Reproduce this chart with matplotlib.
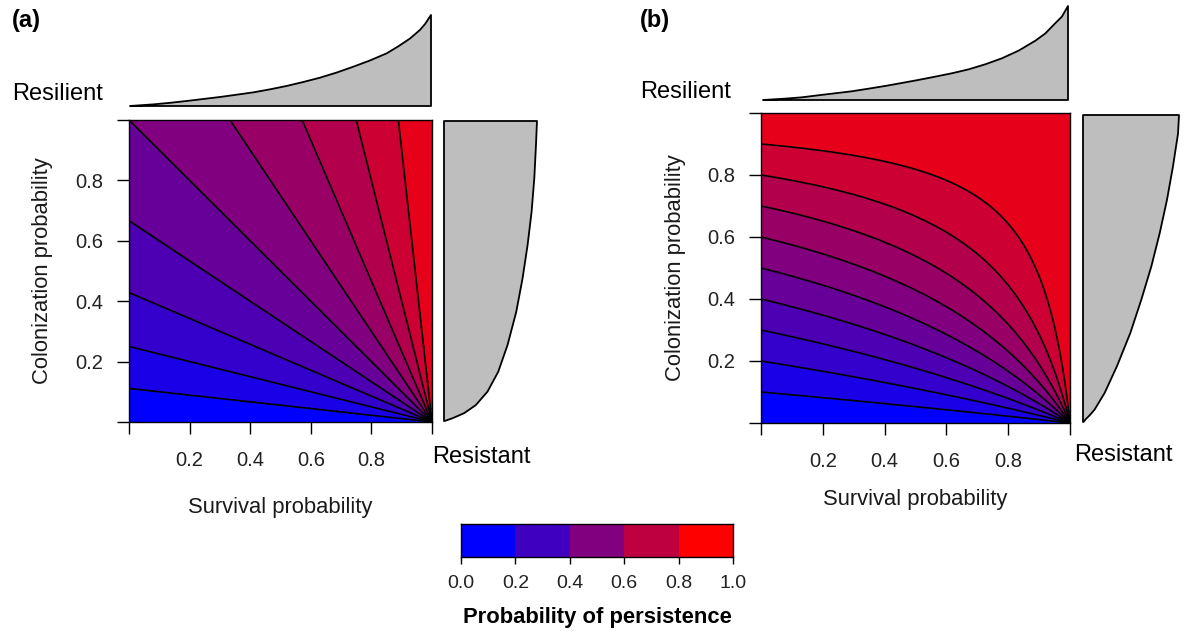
import numpy as np
import matplotlib.pyplot as plt
from matplotlib.colors import ListedColormap, BoundaryNorm

plt.rcParams['font.family'] = ['Liberation Sans', 'DejaVu Sans']

W, H = 1184, 633

# contour levels of the probability of persistence
levels = [0.0, 0.1, 0.2, 0.3, 0.4, 0.5, 0.6, 0.7, 0.8, 0.9, 1.0]
legend_breaks = [0.0, 0.2, 0.4, 0.6, 0.8, 1.0]
axis_ticks = [0.0, 0.2, 0.4, 0.6, 0.8, 1.0]
axis_labels = ['', '0.2', '0.4', '0.6', '0.8', '']

# marginal densities (scaled 0..1)
top_a_s = [0, 0.078, 0.133, 0.188, 0.244, 0.299, 0.354, 0.41, 0.465, 0.52, 0.576,
           0.631, 0.687, 0.742, 0.797, 0.853, 0.891, 0.93, 0.963, 0.98, 1.0]
top_a_h = [0, 0.018, 0.035, 0.055, 0.077, 0.099, 0.124, 0.150, 0.183, 0.220, 0.264,
           0.311, 0.368, 0.432, 0.50, 0.579, 0.655, 0.741, 0.835, 0.90, 1.0]
right_a_c = [0, 0.009, 0.026, 0.053, 0.098, 0.164, 0.253, 0.364, 0.476, 0.587,
             0.698, 0.809, 0.92, 1.0]
right_a_w = [0.007, 0.09, 0.216, 0.342, 0.468, 0.583, 0.683, 0.777, 0.845, 0.899,
             0.942, 0.971, 0.989, 1.0]

top_b_s = [0, 0.071, 0.126, 0.181, 0.235, 0.29, 0.345, 0.40, 0.455, 0.509, 0.564,
           0.619, 0.674, 0.728, 0.783, 0.838, 0.893, 0.926, 0.958, 0.98, 1.0]
top_b_h = [0, 0.014, 0.028, 0.050, 0.071, 0.092, 0.12, 0.149, 0.181, 0.213, 0.248,
           0.284, 0.326, 0.379, 0.443, 0.525, 0.631, 0.709, 0.816, 0.887, 1.0]
right_b_c = [0, 0.009, 0.022, 0.041, 0.095, 0.182, 0.290, 0.399, 0.507, 0.615,
             0.724, 0.832, 0.94, 1.0]
right_b_w = [0.005, 0.028, 0.07, 0.122, 0.226, 0.354, 0.493, 0.608, 0.712, 0.799,
             0.875, 0.937, 0.99, 1.0]


def blend(t):
    return (t, 0.0, 1.0 - t)


band_colors = [blend(v) for v in levels[:-1]]
legend_colors = [blend(t) for t in [0, 0.25, 0.5, 0.75, 1.0]]

# model surfaces
s = np.linspace(0, 1, 401)
c = np.linspace(0, 1, 401)
S, C = np.meshgrid(s, c)
with np.errstate(divide='ignore', invalid='ignore'):
    P_a = C / (C + (1 - S))
    P_b = C / (C + (1 - S) * (1 - C))
P_a = np.nan_to_num(P_a, nan=0.5)
P_b = np.nan_to_num(P_b, nan=0.5)

fig = plt.figure(figsize=(W / 100, H / 100), dpi=100)


def px_axes(l, t, r, b):
    return fig.add_axes([l / W, 1 - b / H, (r - l) / W, (b - t) / H])


def ftext(x, y, s, **kw):
    fig.text(x / W, 1 - y / H, s, **kw)


def heat(box, P):
    ax = px_axes(*box)
    ax.contourf(S, C, P, levels=levels, colors=band_colors)
    ax.contour(S, C, P, levels=levels[1:-1], colors='black', linewidths=1.2)
    ax.set_xlim(0, 1)
    ax.set_ylim(0, 1)
    ax.set_xticks(axis_ticks)
    ax.set_xticklabels(axis_labels)
    ax.set_yticks(axis_ticks)
    ax.set_yticklabels(axis_labels)
    ax.tick_params(axis='x', length=8.6, width=1, pad=12, labelsize=14.5, labelcolor='#222222')
    ax.tick_params(axis='y', length=8.6, width=1, pad=10, labelsize=14.5, labelcolor='#222222')
    for sp in ax.spines.values():
        sp.set_linewidth(1)
    return ax


def top_margin(box, xs, hs):
    ax = px_axes(*box)
    ax.fill(list(xs) + [1, 0], list(hs) + [0, 0], facecolor='#BEBEBE',
            edgecolor='black', linewidth=1.3, joinstyle='round', clip_on=False)
    ax.set_xlim(0, 1)
    ax.set_ylim(0, 1)
    ax.axis('off')


def right_margin(box, cs, ws):
    ax = px_axes(*box)
    ax.fill([0] + list(ws) + [0], [0] + list(cs) + [1], facecolor='#BEBEBE',
            edgecolor='black', linewidth=1.3, joinstyle='round', clip_on=False)
    ax.set_xlim(0, 1)
    ax.set_ylim(0, 1)
    ax.axis('off')


# panel (a)
heat((129, 120, 432, 422), P_a)
top_margin((130, 15, 431, 106), top_a_s, top_a_h)
right_margin((444, 121, 537, 421), right_a_c, right_a_w)
ftext(12, 20, '(a)', fontsize=17, fontweight='bold', va='center')
ftext(12, 94, 'Resilient', fontsize=17, va='center')
ftext(432, 457, 'Resistant', fontsize=17, va='center')
ftext(43, 271, 'Colonization probability', fontsize=15.8, rotation=90,
      ha='center', va='center', color='#1a1a1a')
ftext(280, 508, 'Survival probability', fontsize=15.8, ha='center', va='center', color='#1a1a1a')

# panel (b)
heat((761, 113, 1070, 423), P_b)
top_margin((763, 6, 1068, 100), top_b_s, top_b_h)
right_margin((1083, 115, 1179, 422), right_b_c, right_b_w)
ftext(640, 20, '(b)', fontsize=17, fontweight='bold', va='center')
ftext(640, 92, 'Resilient', fontsize=17, va='center')
ftext(1074, 455, 'Resistant', fontsize=17, va='center')
ftext(675, 268, 'Colonization probability', fontsize=15.8, rotation=90,
      ha='center', va='center', color='#1a1a1a')
ftext(915, 500, 'Survival probability', fontsize=15.8, ha='center', va='center', color='#1a1a1a')

# legend bar
cax = px_axes(461, 524, 733, 557)
cmap = ListedColormap(legend_colors)
norm = BoundaryNorm(legend_breaks, cmap.N)
cax.pcolormesh(legend_breaks, [0, 1], np.array([[0.1, 0.3, 0.5, 0.7, 0.9]]), cmap=cmap, norm=norm)
cax.set_xlim(0, 1)
cax.set_ylim(0, 1)
cax.set_yticks([])
cax.set_xticks(legend_breaks)
cax.set_xticklabels(['%.1f' % v for v in legend_breaks])
cax.tick_params(axis='x', length=5, width=1, pad=8, labelsize=14, labelcolor='#222222')
for sp in cax.spines.values():
    sp.set_linewidth(1)
ftext(597, 618, 'Probability of persistence', fontsize=15.8, fontweight='bold',
      ha='center', va='center')

fig.savefig('out.png', dpi=100, facecolor='white')
